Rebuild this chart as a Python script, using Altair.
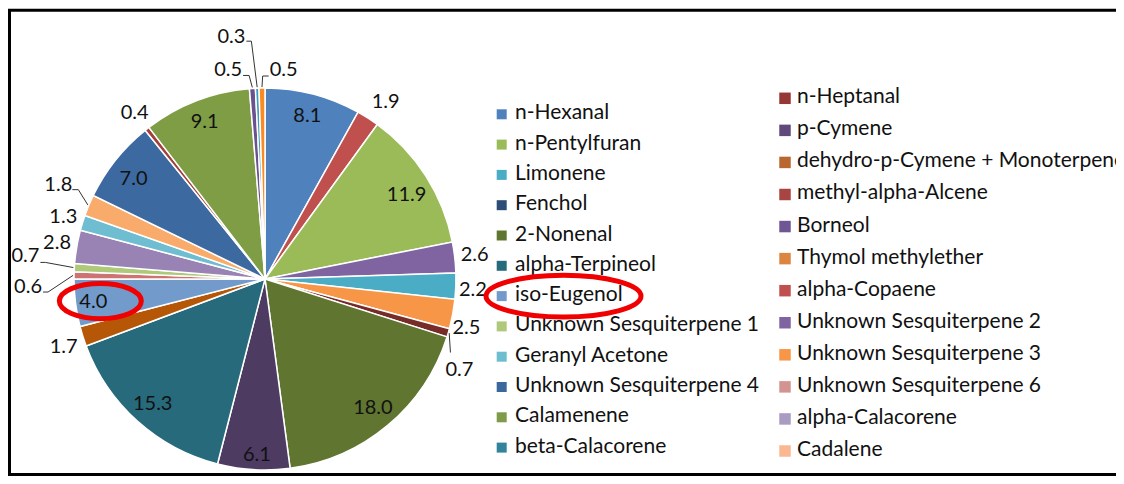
import altair as alt
import pandas as pd

# ---------------- data ----------------
names = [
    "n-Hexanal", "n-Heptanal", "n-Pentylfuran", "p-Cymene", "Limonene",
    "dehydro-p-Cymene + Monoterpene", "Fenchol", "methyl-alpha-Alcene",
    "2-Nonenal", "Borneol", "alpha-Terpineol", "Thymol methylether",
    "iso-Eugenol", "alpha-Copaene", "Unknown Sesquiterpene 1",
    "Unknown Sesquiterpene 2", "Geranyl Acetone", "Unknown Sesquiterpene 3",
    "Unknown Sesquiterpene 4", "Unknown Sesquiterpene 6", "Calamenene",
    "alpha-Calacorene", "beta-Calacorene", "Cadalene",
]
values = [8.1, 1.9, 11.9, 2.6, 2.2, 2.5, 0.0, 0.7, 18.0, 6.1, 15.3, 1.7,
          4.0, 0.6, 0.7, 2.8, 1.3, 1.8, 7.0, 0.4, 9.1, 0.5, 0.3, 0.5]

# ---------------- styles ----------------
pie_colors = ["#4F81BD", "#C0504D", "#9BBB59", "#8064A2", "#4BACC6", "#F79646",
              "#2C4D75", "#772C2A", "#5F7530", "#4D3B62", "#276A7C", "#B65708",
              "#729ACA", "#CD7371", "#AFC97A", "#9983B5", "#6FBDD1", "#F9AB6B",
              "#3C6AA0", "#A0413E", "#7F9D44", "#6A5190", "#3C9DBA", "#F98B25"]
legend_colors = ["#4F81BD", "#953735", "#9BBB59", "#604A7B", "#4BACC6", "#B7672F",
                 "#2C4D75", "#A84442", "#5F7530", "#6E5794", "#276A7C", "#DC8540",
                 "#729ACA", "#C0504D", "#AFC97A", "#8064A2", "#6FBDD1", "#F79646",
                 "#3A679C", "#D39391", "#7F9A48", "#AA9BC2", "#31849B", "#FAB791"]

FONT = "Lato"
LABEL_SIZE = 20
LEGEND_SIZE = 21
CX, CY = 257, 271          # pie centre inside the view
R_PIE = 191
R_IN, R_OUT = 168, 211     # label radii (inside / outside)
W, H = 1108, 468

# label nudges (dx, dy) and leader anchors (ax, ay, stub)
nudge = {
    "n-Heptanal": (7, 1), "n-Pentylfuran": (0, 6), "Limonene": (-3, 3),
    "dehydro-p-Cymene + Monoterpene": (-6, 10), "Borneol": (2, 8),
    "Thymol methylether": (0, 5), "iso-Eugenol": (-5, 2),
    "Unknown Sesquiterpene 4": (0, 5),
    "methyl-alpha-Alcene": (-8, 31), "alpha-Copaene": (-26, 12),
    "Unknown Sesquiterpene 1": (-29, -10), "Unknown Sesquiterpene 3": (-12, -13),
    "alpha-Calacorene": (-23, 2), "beta-Calacorene": (-25, -31),
    "Cadalene": (22, 2),
}
leaders = {
    "methyl-alpha-Alcene": (-9, -17, 0), "alpha-Copaene": (15, 5, 5),
    "Unknown Sesquiterpene 1": (15, 6, 5), "Unknown Sesquiterpene 3": (14, 5, 6),
    "alpha-Calacorene": (15, 5, 6), "beta-Calacorene": (15, 4, 5),
    "Cadalene": (-15, 6, -6),
}

rows = []
for i, (n, v) in enumerate(zip(names, values)):
    dx, dy = nudge.get(n, (0, 0))
    ax, ay, sx = leaders.get(n, (0, 0, 0))
    rows.append(dict(name=n, value=v, order=i, dx=dx, dy=dy, ax=ax, ay=ay, sx=sx,
                     leader=1 if n in leaders else 0))
df = pd.DataFrame(rows)
pie_df = df[df["value"] > 0]

leg_df = pd.DataFrame({"name": names, "idx": list(range(len(names)))})
leg_df["col"] = leg_df["idx"] % 2
leg_df["row"] = leg_df["idx"] // 2

color_pie = alt.Color("name:N", scale=alt.Scale(domain=names, range=pie_colors), legend=None)
color_leg = alt.Color("name:N", scale=alt.Scale(domain=names, range=legend_colors), legend=None)

# ---------------- frame (drawn first, right side runs past the edge) ----------------
one = pd.DataFrame({"d": [0]})
frame = alt.Chart(one).mark_rect(fill="white", stroke="black", strokeWidth=3).encode(
    x=alt.value(1.5), x2=alt.value(W + 30), y=alt.value(2.3), y2=alt.value(466.5))

# ---------------- pie ----------------
pie = alt.Chart(pie_df).mark_arc(outerRadius=R_PIE, stroke="white", strokeWidth=1.5).encode(
    theta=alt.Theta("value:Q", stack=True),
    color=color_pie,
    order=alt.Order("order:Q"),
    x=alt.value(CX), y=alt.value(CY),
)

base = alt.Chart(pie_df).transform_joinaggregate(
    total="sum(value)"
).transform_window(
    cum="sum(value)", sort=[alt.SortField("order", order="ascending")], frame=[None, 0]
).transform_calculate(
    a="(datum.cum - datum.value / 2) / datum.total * 2 * PI"
).transform_calculate(
    R=f"datum.value >= 4 ? {R_IN} : {R_OUT}"
).transform_calculate(
    lx=f"{CX} + datum.R * sin(datum.a) + datum.dx",
    ly=f"{CY} - datum.R * cos(datum.a) + datum.dy",
    ex=f"{CX} + {R_PIE + 1} * sin(datum.a)",
    ey=f"{CY} - {R_PIE + 1} * cos(datum.a)",
)

labels = base.mark_text(font=FONT, fontSize=LABEL_SIZE, color="#111111",
                        align="center", baseline="middle").encode(
    x=alt.X("lx:Q", scale=None), y=alt.Y("ly:Q", scale=None),
    text=alt.Text("value:Q", format=".1f"),
)

lead = base.transform_filter("datum.leader == 1").transform_calculate(
    p0x="datum.lx + datum.ax", p0y="datum.ly + datum.ay",
    p1x="datum.lx + datum.ax + datum.sx",
)
stub = lead.mark_rule(color="#333333", strokeWidth=1).encode(
    x=alt.X("p0x:Q", scale=None), x2="p1x:Q",
    y=alt.Y("p0y:Q", scale=None), y2="p0y:Q",
)
slant = lead.mark_rule(color="#333333", strokeWidth=1).encode(
    x=alt.X("p1x:Q", scale=None), x2="ex:Q",
    y=alt.Y("p0y:Q", scale=None), y2="ey:Q",
)

# ---------------- legend ----------------
def legend_col(c, mark_x, text_x, y0, y1, msize):
    ysc = alt.Y("row:Q", scale=alt.Scale(domain=[0, 11], range=[y0, y1], nice=False, zero=False), axis=None)
    src = alt.Chart(leg_df).transform_filter(f"datum.col == {c}")
    m = src.mark_square(size=msize, opacity=1, yOffset=1).encode(x=alt.value(mark_x), y=ysc, color=color_leg)
    t = src.mark_text(font=FONT, fontSize=LEGEND_SIZE, color="#111111", align="left",
                      baseline="middle").encode(x=alt.value(text_x), y=ysc, text="name:N")
    return [m, t], ysc

leg1, ysc1 = legend_col(0, 493.7, 507, 105.3, 438.6, 100)
leg2, ysc2 = legend_col(1, 777, 789, 89.3, 442, 132)

# ---------------- annotations ----------------
def ellipse_path(k):
    return f"M -1 0 A 1 {k} 0 1 1 1 0 A 1 {k} 0 1 1 -1 0 Z"

ell1 = base.transform_filter("datum.name == 'iso-Eugenol'").transform_calculate(
    ox="datum.lx + 7", oy="datum.ly - 1"
).mark_point(shape=ellipse_path(0.43), size=82 * 82, filled=False,
             stroke="#F00000", strokeWidth=5, opacity=1).encode(
    x=alt.X("ox:Q", scale=None), y=alt.Y("oy:Q", scale=None))

ell2 = alt.Chart(leg_df).transform_filter("datum.name == 'iso-Eugenol'").mark_point(
    shape=ellipse_path(0.27), size=155 * 155, filled=False,
    stroke="#F00000", strokeWidth=5, opacity=1, yOffset=1).encode(x=alt.value(555.5), y=ysc1)

chart = alt.layer(
    frame, pie, stub, slant, labels, *leg1, *leg2, ell1, ell2
).resolve_scale(
    color="independent", y="independent", x="independent"
).properties(
    width=W, height=H, padding=0, background="white",
    autosize=alt.AutoSizeParams(type="none"),
).configure_view(stroke="transparent", strokeWidth=0)

chart.save("out.html", embed_options={"renderer": "svg", "actions": False})
